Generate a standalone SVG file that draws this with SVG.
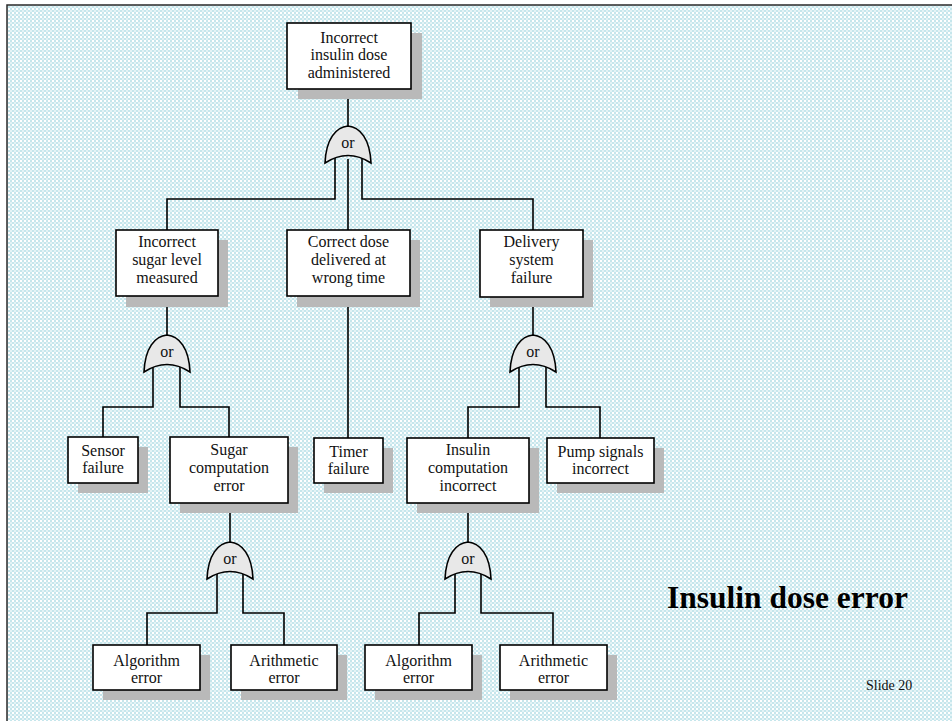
<svg xmlns="http://www.w3.org/2000/svg" width="952" height="721" viewBox="0 0 952 721">
<defs>
<pattern id="bg" width="4" height="4" patternUnits="userSpaceOnUse">
<rect width="4" height="4" fill="#c6e6ec"/>
<rect x="0" y="0" width="2" height="2" fill="#ffffff"/>
<rect x="2" y="2" width="2" height="2" fill="#e4f3f6"/>
</pattern>
<path id="gate" d="M0,0 C12,1 22,13 23,37 Q0,22 -23,37 C-22,13 -12,1 0,0 Z"/>
</defs>
<style>
.box{fill:#fff;stroke:#000;stroke-width:1.6}
.sh{fill:#b9b9b9}
.t{font-family:"Liberation Serif","Times New Roman",serif;font-size:16px;fill:#111;text-anchor:middle}
.g{fill:#e8e8e8;stroke:#000;stroke-width:1.6}
.c{fill:none;stroke:#000;stroke-width:1.6}
</style>
<rect width="952" height="721" fill="#fff"/>
<rect x="7" y="5" width="960" height="730" fill="url(#bg)"/>
<path d="M7,721 V5 H952" fill="none" stroke="#2a2a2a" stroke-width="1.5"/>

<g id="connectors">
<path class="c" d="M348,89 V126"/>
<path class="c" d="M335,158 V199 H167 V230"/>
<path class="c" d="M348,159 V230"/>
<path class="c" d="M362,158 V199 H533 V230"/>
<path class="c" d="M167,296 V335"/>
<path class="c" d="M153,367 V407 H103 V437"/>
<path class="c" d="M180,367 V407 H229 V437"/>
<path class="c" d="M348,296 V438"/>
<path class="c" d="M533,297 V335"/>
<path class="c" d="M519,367 V407 H468 V438"/>
<path class="c" d="M546,367 V407 H600 V438"/>
<path class="c" d="M230,503 V542"/>
<path class="c" d="M217,574 V613 H147 V645"/>
<path class="c" d="M243,574 V613 H284 V645"/>
<path class="c" d="M468,503 V542"/>
<path class="c" d="M455,574 V613 H419 V645"/>
<path class="c" d="M481,574 V613 H553 V645"/>
</g>

<g id="gate1"><use href="#gate" class="g" x="348" y="126"/><text class="t" x="348" y="148">or</text></g>
<g id="gate2"><use href="#gate" class="g" x="167" y="335"/><text class="t" x="167" y="357">or</text></g>
<g id="gate3"><use href="#gate" class="g" x="533" y="335"/><text class="t" x="533" y="357">or</text></g>
<g id="gate4"><use href="#gate" class="g" x="230" y="542"/><text class="t" x="230" y="564">or</text></g>
<g id="gate5"><use href="#gate" class="g" x="468" y="542"/><text class="t" x="468" y="564">or</text></g>

<g id="n-top">
<rect class="sh" x="298" y="33" width="124" height="66"/>
<rect class="box" x="287" y="23" width="124" height="66"/>
<text class="t" x="349" y="42.5">Incorrect</text>
<text class="t" x="349" y="60">insulin dose</text>
<text class="t" x="349" y="77.5">administered</text>
</g>

<g id="n-sugar">
<rect class="sh" x="126" y="240" width="102" height="67"/>
<rect class="box" x="116" y="230" width="102" height="66"/>
<text class="t" x="167" y="247">Incorrect</text>
<text class="t" x="167" y="265">sugar level</text>
<text class="t" x="167" y="283">measured</text>
</g>

<g id="n-correct">
<rect class="sh" x="297" y="240" width="123" height="67"/>
<rect class="box" x="287" y="230" width="123" height="66"/>
<text class="t" x="348.5" y="247">Correct dose</text>
<text class="t" x="348.5" y="265">delivered at</text>
<text class="t" x="348.5" y="283">wrong time</text>
</g>

<g id="n-delivery">
<rect class="sh" x="490" y="240" width="103" height="67"/>
<rect class="box" x="480" y="230" width="103" height="67"/>
<text class="t" x="531.5" y="247">Delivery</text>
<text class="t" x="531.5" y="265">system</text>
<text class="t" x="531.5" y="283">failure</text>
</g>

<g id="n-sensor">
<rect class="sh" x="78" y="447" width="70" height="46"/>
<rect class="box" x="68" y="437" width="70" height="46"/>
<text class="t" x="103" y="456">Sensor</text>
<text class="t" x="103" y="473">failure</text>
</g>

<g id="n-sugarcomp">
<rect class="sh" x="180" y="447" width="118" height="66"/>
<rect class="box" x="170" y="437" width="118" height="66"/>
<text class="t" x="229" y="455">Sugar</text>
<text class="t" x="229" y="473">computation</text>
<text class="t" x="229" y="491">error</text>
</g>

<g id="n-timer">
<rect class="sh" x="324" y="448" width="69" height="45"/>
<rect class="box" x="314" y="438" width="69" height="45"/>
<text class="t" x="348.5" y="457">Timer</text>
<text class="t" x="348.5" y="474">failure</text>
</g>

<g id="n-insulincomp">
<rect class="sh" x="417" y="448" width="122" height="65"/>
<rect class="box" x="407" y="438" width="122" height="65"/>
<text class="t" x="468" y="455">Insulin</text>
<text class="t" x="468" y="473">computation</text>
<text class="t" x="468" y="491">incorrect</text>
</g>

<g id="n-pump">
<rect class="sh" x="557" y="448" width="107" height="45"/>
<rect class="box" x="547" y="438" width="107" height="45"/>
<text class="t" x="600.5" y="457">Pump signals</text>
<text class="t" x="600.5" y="474">incorrect</text>
</g>

<g id="n-alg1">
<rect class="sh" x="103" y="655" width="107" height="45"/>
<rect class="box" x="93" y="645" width="107" height="45"/>
<text class="t" x="146.5" y="666">Algorithm</text>
<text class="t" x="146.5" y="683">error</text>
</g>

<g id="n-arith1">
<rect class="sh" x="241" y="655" width="106" height="45"/>
<rect class="box" x="231" y="645" width="106" height="45"/>
<text class="t" x="284" y="666">Arithmetic</text>
<text class="t" x="284" y="683">error</text>
</g>

<g id="n-alg2">
<rect class="sh" x="375" y="655" width="107" height="45"/>
<rect class="box" x="365" y="645" width="107" height="45"/>
<text class="t" x="418.5" y="666">Algorithm</text>
<text class="t" x="418.5" y="683">error</text>
</g>

<g id="n-arith2">
<rect class="sh" x="510" y="655" width="107" height="45"/>
<rect class="box" x="500" y="645" width="107" height="45"/>
<text class="t" x="553.5" y="666">Arithmetic</text>
<text class="t" x="553.5" y="683">error</text>
</g>

<text x="667" y="608" font-family="'Liberation Serif','Times New Roman',serif" font-size="31.5" font-weight="bold" fill="#000">Insulin dose error</text>
<text x="866" y="690" font-family="'Liberation Serif','Times New Roman',serif" font-size="14" fill="#111">Slide 20</text>
</svg>
